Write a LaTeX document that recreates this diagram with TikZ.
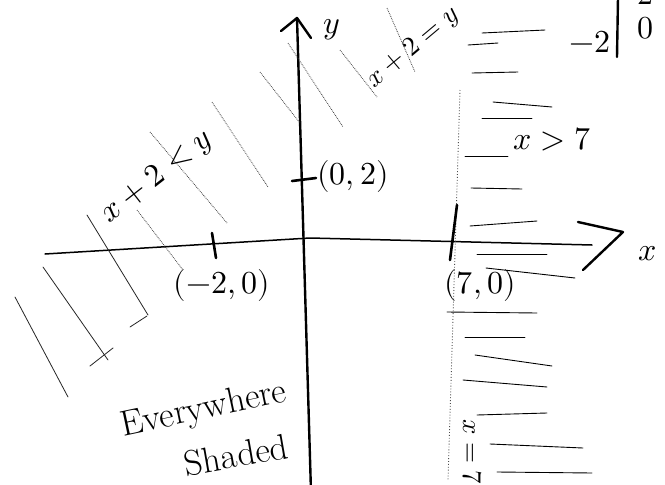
\documentclass[tikz,border=0pt]{standalone}
\usepackage{unicode-math}
\setmathfont{Latin Modern Math}
\begin{document}
\begin{tikzpicture}[x=1pt,y=-1pt,
  axis/.style={line width=2.4pt,line cap=round,line join=round},
  xaxis/.style={line width=1.5pt,line cap=round,line join=round},
  tickmark/.style={line width=2.6pt,line cap=round},
  hatchR/.style={line width=0.9pt,line cap=round},
  hatchL/.style={line width=0.8pt,densely dotted,black!75},
  hatchLs/.style={line width=0.8pt,line cap=round,black!85},
  bdry/.style={line width=0.9pt,dotted,black!70},
  lbl/.style={inner sep=0pt,font=\fontsize{32}{36}\selectfont},
  slbl/.style={inner sep=0pt,font=\fontsize{27}{30}\selectfont},
  wlbl/.style={inner sep=0pt,font=\fontsize{36}{40}\selectfont}]
\useasboundingbox (0,0) rectangle (665,485);
\fill[white] (0,0) rectangle (665,485);

% ---- y-axis ----
\coordinate (ytop) at (297,18);
\coordinate (ybot) at (311,492);
\coordinate (yhl) at (281,31);
\coordinate (yhr) at (311,38);
\draw[axis] (ybot) -- (ytop);
\draw[axis] (yhl) -- (ytop) -- (yhr);

% ---- x-axis ----
\coordinate (xl) at (45,254);
\coordinate (xo) at (310,238);
\coordinate (xr) at (592,245);
\coordinate (xht) at (578,222);
\coordinate (xtip) at (623,232);
\coordinate (xhb) at (583,270);
\draw[xaxis] (xl) -- (xo) -- (xr);
\draw[axis] (xht) -- (xtip) -- (xhb);

% ---- boundary x = 7 (dotted) ----
\coordinate (b7t) at (460,90);
\coordinate (b7b) at (448,480);
\draw[bdry] (b7t) -- (b7b);

% ---- ticks ----
\draw[tickmark] (292,181) -- (316,178);
\draw[tickmark] (212,233) -- (216,258);
\draw[tickmark] (457,205) -- (450,260);

% ---- right hatching (x > 7) ----
\foreach \a/\b/\c/\d in {
  482/33/545/30, 468/45/498/43, 472/73/518/72, 493/102/552/107,
  482/118/532/118, 465/156/508/156, 471/188/522/189, 470/226/537/221,
  477/254/547/254, 486/268/575/278, 447/312/537/313, 465/337/525/337,
  475/355/552/366, 463/380/547/387, 477/415/547/413, 490/444/583/448,
  497/472/592/473}
  \draw[hatchR] (\a,\b) -- (\c,\d);

% ---- left hatching (x + 2 < y) ----
\foreach \a/\b/\c/\d in {
  387/8/415/72, 340/50/377/97, 288/43/343/127, 260/72/300/123,
  212/102/268/187, 150/132/227/223, 137/210/183/270}
  \draw[hatchL] (\a,\b) -- (\c,\d);
\foreach \a/\b/\c/\d in {
  87/215/148/315, 43/267/108/360, 15/297/68/397,
  130/327/147/316, 90/366/113/348}
  \draw[hatchLs] (\a,\b) -- (\c,\d);

% ---- labels ----
\node[lbl] (ylbl) at (332,30) {$y$};
\node[lbl] (xlbl) at (648,254) {$x$};
\node[lbl] (p02) at (353,176) {$(0,2)$};
\node[lbl] (pm20) at (222,285) {$(-2,0)$};
\node[lbl] (p70) at (480,285) {$(7,0)$};
\node[lbl] (gtseven) at (552,140) {$x>7$};
\node[lbl,rotate=38] (ineq) at (157,177) {$x+2<y$};
\node[slbl,rotate=40] (line) at (413,48) {$x+2=y$};
\node[slbl,rotate=-90] (xeq) at (472,452) {$x=7$};
\node[wlbl,rotate=12] (every) at (204,410) {Everywhere};
\node[wlbl,rotate=10] (shaded) at (236,455) {Shaded};

% ---- table in the corner ----
\coordinate (bart) at (618,-2);
\coordinate (barb) at (617,57);
\draw[axis] (bart) -- (barb);
\node[lbl] (tm2) at (590,42) {$-2$};
\node[lbl] (tz) at (645,28) {$0$};
\node[lbl] (ttwo) at (645,-6) {$2$};
\end{tikzpicture}
\end{document}
